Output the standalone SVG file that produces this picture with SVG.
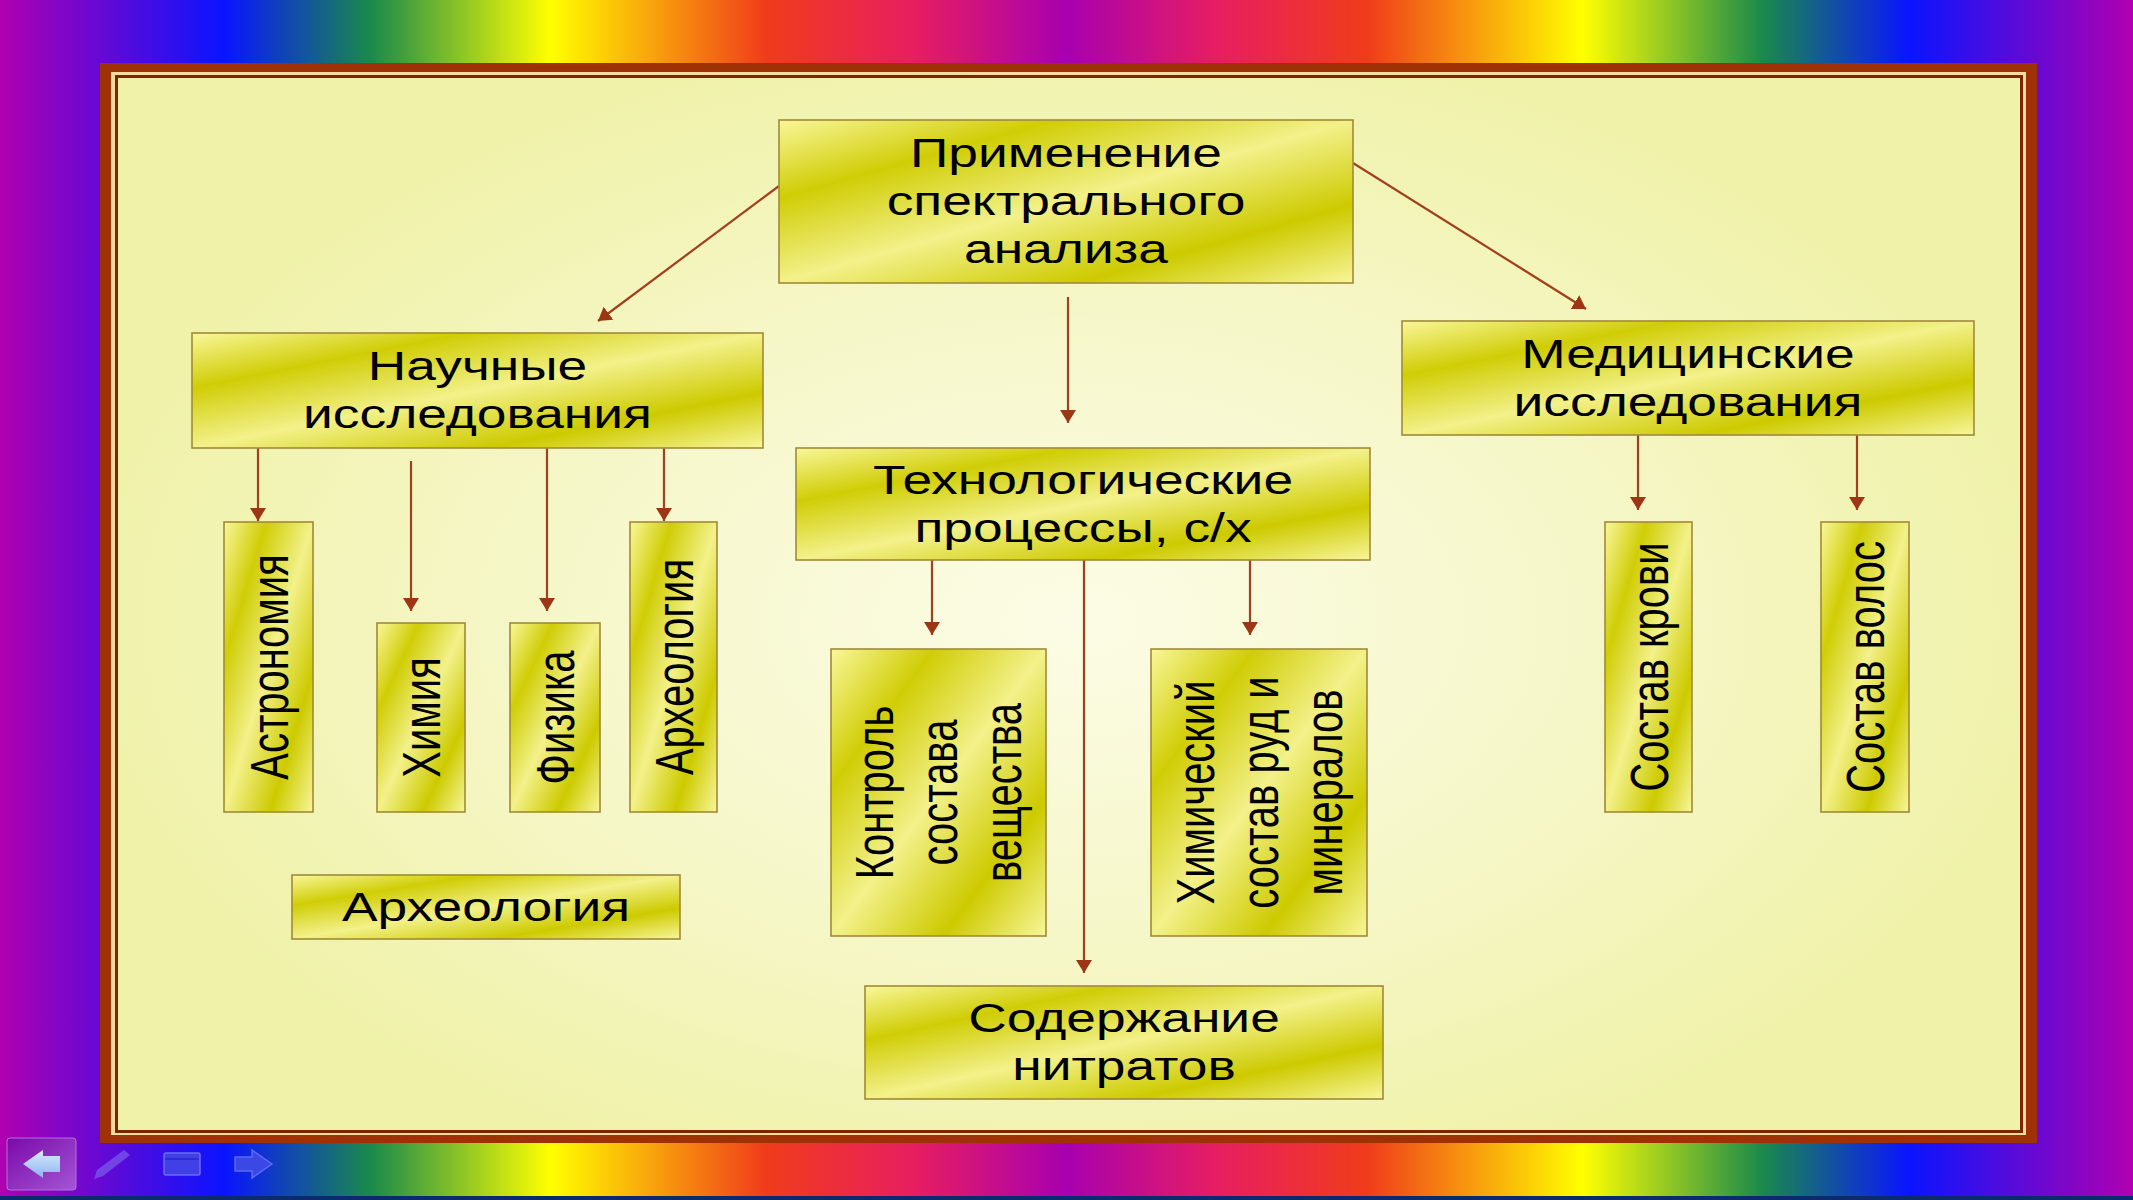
<svg xmlns="http://www.w3.org/2000/svg" width="2133" height="1200" viewBox="0 0 2133 1200">
<defs>
<linearGradient id="rainbow" gradientUnits="userSpaceOnUse" x1="0" y1="0" x2="2133" y2="0">
<stop offset="0" stop-color="#b000b0"/>
<stop offset="0.105" stop-color="#0a14ff"/>
<stop offset="0.174" stop-color="#1a8a4a"/>
<stop offset="0.258" stop-color="#ffff00"/>
<stop offset="0.359" stop-color="#f03c1a"/>
<stop offset="0.428" stop-color="#e81e60"/>
<stop offset="0.5" stop-color="#a800b0"/>
<stop offset="0.572" stop-color="#e81e60"/>
<stop offset="0.641" stop-color="#f03c1a"/>
<stop offset="0.742" stop-color="#ffff00"/>
<stop offset="0.826" stop-color="#1a8a4a"/>
<stop offset="0.895" stop-color="#0a14ff"/>
<stop offset="1" stop-color="#b000b0"/>
</linearGradient>
<radialGradient id="paper" gradientUnits="userSpaceOnUse" cx="1070" cy="620" r="1000" gradientTransform="translate(1070 620) scale(1 0.6) translate(-1070 -620)">
<stop offset="0" stop-color="#fcfce6"/>
<stop offset="0.6" stop-color="#f5f6c4"/>
<stop offset="1" stop-color="#eff2a8"/>
</radialGradient>
<linearGradient id="gold" x1="0" y1="0" x2="1" y2="1">
<stop offset="0" stop-color="#f9f79a"/>
<stop offset="0.24" stop-color="#d0cd06"/>
<stop offset="0.5" stop-color="#f3f18a"/>
<stop offset="0.76" stop-color="#cdca00"/>
<stop offset="1" stop-color="#f8f69a"/>
</linearGradient>
<linearGradient id="btn" x1="0" y1="0" x2="1" y2="1">
<stop offset="0" stop-color="#7a0aa8"/>
<stop offset="1" stop-color="#a455d6"/>
</linearGradient>
<linearGradient id="btnArrow" x1="0" y1="0" x2="0" y2="1">
<stop offset="0" stop-color="#d8ecff"/>
<stop offset="1" stop-color="#8fb2f0"/>
</linearGradient>
<marker id="ah" viewBox="0 0 13 16" refX="13" refY="8" markerWidth="13" markerHeight="16" markerUnits="userSpaceOnUse" orient="auto">
<path d="M0,0 L13,8 L0,16 z" fill="#9c3614"/>
</marker>
<style>
.box{fill:url(#gold);stroke:#a08a38;stroke-width:1.6}
.t{font-family:"Liberation Sans",Arial,sans-serif;font-size:40px;fill:#000;text-anchor:middle}
.c{fill:none;stroke:#a0401e;stroke-width:2.2;marker-end:url(#ah)}
</style>
</defs>

<g id="background">
<rect x="0" y="0" width="2133" height="1200" fill="url(#rainbow)"/>
<rect x="0" y="1196" width="2133" height="4" fill="#0c2a6e"/>
<rect x="100" y="63" width="1937" height="1080" fill="#9e3206"/>
<rect x="111" y="72" width="1915" height="1063" fill="#f6dca0"/>
<rect x="115" y="75" width="1908" height="1058" fill="#7e2400"/>
<rect x="118" y="78" width="1902" height="1052" fill="url(#paper)"/>
</g>

<g id="nav">
<rect x="7" y="1138" width="69" height="52" rx="3" fill="url(#btn)" stroke="#b070e0" stroke-width="1"/>
<polygon points="23,1164 43,1150 43,1156 60,1156 60,1172 43,1172 43,1178" fill="url(#btnArrow)"/>
<polygon points="94,1179 97,1170 124,1150 130,1155 103,1176" fill="#7650e6" opacity="0.85"/>
<rect x="164" y="1153" width="36" height="22" rx="2" fill="#4040e6" stroke="#6a6af4" stroke-width="1.5"/>
<line x1="165" y1="1159" x2="199" y2="1159" stroke="#2828c8" stroke-width="1.5"/>
<polygon points="235,1157 252,1157 252,1150 272,1164 252,1178 252,1171 235,1171" fill="#3c48e6" stroke="#5a6af4" stroke-width="1.5"/>
</g>

<g id="connectors">
<line class="c" x1="779" y1="186" x2="598" y2="321"/>
<line class="c" x1="1353" y1="163" x2="1586" y2="309"/>
<line class="c" x1="1068" y1="297" x2="1068" y2="423"/>
<line class="c" x1="258" y1="448" x2="258" y2="521"/>
<line class="c" x1="411" y1="461" x2="411" y2="611"/>
<line class="c" x1="547" y1="448" x2="547" y2="611"/>
<line class="c" x1="664" y1="448" x2="664" y2="521"/>
<line class="c" x1="932" y1="560" x2="932" y2="635"/>
<line class="c" x1="1250" y1="560" x2="1250" y2="635"/>
<line class="c" x1="1084" y1="560" x2="1084" y2="973"/>
<line class="c" x1="1638" y1="435" x2="1638" y2="510"/>
<line class="c" x1="1857" y1="435" x2="1857" y2="510"/>
</g>

<g id="n-root">
<rect class="box" x="779" y="120" width="574" height="163"/>
<text class="t" transform="translate(1066 0) scale(1.3333 1)"><tspan x="0" y="167.5">Применение</tspan><tspan x="0" y="215.5">спектрального</tspan><tspan x="0" y="263.5">анализа</tspan></text>
</g>

<g id="n-science">
<rect class="box" x="192" y="333" width="571" height="115"/>
<text class="t" transform="translate(477.5 0) scale(1.3333 1)"><tspan x="0" y="380.5">Научные</tspan><tspan x="0" y="428.5">исследования</tspan></text>
</g>

<g id="n-tech">
<rect class="box" x="796" y="448" width="574" height="112"/>
<text class="t" transform="translate(1083 0) scale(1.3333 1)"><tspan x="0" y="494">Технологические</tspan><tspan x="0" y="542">процессы, с/х</tspan></text>
</g>

<g id="n-med">
<rect class="box" x="1402" y="321" width="572" height="114"/>
<text class="t" transform="translate(1688 0) scale(1.3333 1)"><tspan x="0" y="368">Медицинские</tspan><tspan x="0" y="416">исследования</tspan></text>
</g>

<g id="n-astronomy">
<rect class="box" x="224" y="522" width="89" height="290"/>
<text class="t" transform="translate(287.5 667) scale(1.3333 1) rotate(-90)" x="0" y="0">Астрономия</text>
</g>

<g id="n-chemistry">
<rect class="box" x="377" y="623" width="88" height="189"/>
<text class="t" transform="translate(440 717.5) scale(1.3333 1) rotate(-90)" x="0" y="0">Химия</text>
</g>

<g id="n-physics">
<rect class="box" x="510" y="623" width="90" height="189"/>
<text class="t" transform="translate(574 717.5) scale(1.3333 1) rotate(-90)" x="0" y="0">Физика</text>
</g>

<g id="n-archaeology-v">
<rect class="box" x="630" y="522" width="87" height="290"/>
<text class="t" transform="translate(692.5 667) scale(1.3333 1) rotate(-90)" x="0" y="0">Археология</text>
</g>

<g id="n-archaeology-h">
<rect class="box" x="292" y="875" width="388" height="64"/>
<text class="t" transform="translate(486 921) scale(1.3333 1)" x="0" y="0">Археология</text>
</g>

<g id="n-control">
<rect class="box" x="831" y="649" width="215" height="287"/>
<text class="t" transform="translate(938.5 792.5) scale(1.3333 1) rotate(-90)"><tspan x="0" y="-34">Контроль</tspan><tspan x="0" y="14">состава</tspan><tspan x="0" y="62">вещества</tspan></text>
</g>

<g id="n-ores">
<rect class="box" x="1151" y="649" width="216" height="287"/>
<text class="t" transform="translate(1259 792.5) scale(1.3333 1) rotate(-90)"><tspan x="0" y="-34">Химический</tspan><tspan x="0" y="14">состав руд и</tspan><tspan x="0" y="62">минералов</tspan></text>
</g>

<g id="n-nitrates">
<rect class="box" x="865" y="986" width="518" height="113"/>
<text class="t" transform="translate(1124 0) scale(1.3333 1)"><tspan x="0" y="1032.5">Содержание</tspan><tspan x="0" y="1080.5">нитратов</tspan></text>
</g>

<g id="n-blood">
<rect class="box" x="1605" y="522" width="87" height="290"/>
<text class="t" transform="translate(1667.5 667) scale(1.3333 1) rotate(-90)" x="0" y="0">Состав крови</text>
</g>

<g id="n-hair">
<rect class="box" x="1821" y="522" width="88" height="290"/>
<text class="t" transform="translate(1884 667) scale(1.3333 1) rotate(-90)" x="0" y="0">Состав волос</text>
</g>
</svg>
